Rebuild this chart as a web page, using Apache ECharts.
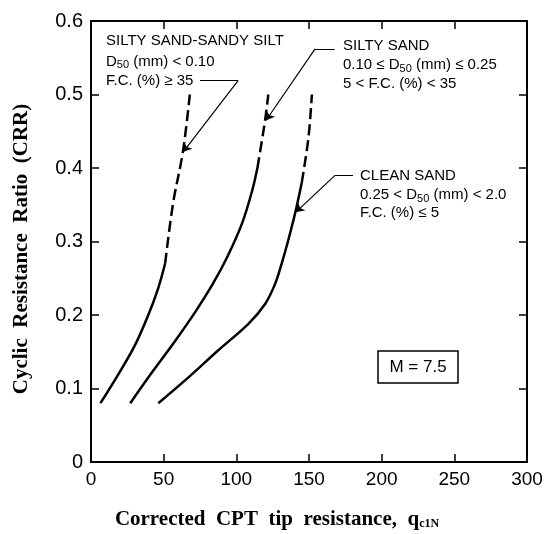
<!DOCTYPE html>
<html>
<head>
<meta charset="utf-8">
<script src="https://cdn.jsdelivr.net/npm/echarts@6/dist/echarts.min.js"></script>
<style>
  html, body { margin: 0; padding: 0; background: #fff; }
  #chart { width: 546px; height: 534px; }
</style>
</head>
<body>
<div id="chart"></div>
<script>
// CRR curves (M = 7.5): [q_c1N, CRR]
var siltySiltSolid = [[6.5, 0.08], [19, 0.12], [30, 0.158], [39, 0.198], [46, 0.235], [51, 0.27]];
var siltySiltDashed = [[51, 0.27], [56.4, 0.351], [63.3, 0.423], [68, 0.5]];

var siltySandSolid = [[27, 0.08], [42, 0.122], [58, 0.165], [72, 0.205], [84, 0.243], [94, 0.28], [104, 0.325], [111, 0.37], [114.5, 0.4]];
var siltySandDashed = [[114.5, 0.4], [117, 0.43], [120, 0.468], [122, 0.5]];

var cleanSandSolid = [[46.3, 0.08], [64.7, 0.111], [87.6, 0.152], [108.3, 0.188], [119.8, 0.215], [126.6, 0.242], [131.2, 0.27], [135.5, 0.3], [140.4, 0.338], [145, 0.38]];
var cleanSandDashed = [[145, 0.38], [149.6, 0.441], [152, 0.5]];

// leader lines from the notes to the curves: text end, corner, arrow tip
var leaderSiltySilt = [[75, 0.519], [101.2, 0.519], [63.5, 0.422]];
var leaderSiltySand = [[167.6, 0.562], [154.2, 0.562], [120.5, 0.465]];
var leaderCleanSand = [[180.3, 0.39], [167.9, 0.39], [141, 0.34]];

var xTicks = [0, 50, 100, 150, 200, 250, 300];
var yTicks = [0, 0.1, 0.2, 0.3, 0.4, 0.5, 0.6];

(function() {
  var myChart = echarts.init(document.getElementById('chart'), null, { renderer: 'canvas' });

  var black = '#000';
  var tickFont = 'Arial, "Liberation Sans", sans-serif';
  var serif = '"Times New Roman", "Liberation Serif", serif';
  var leaders = [leaderSiltySilt, leaderSiltySand, leaderCleanSand];

  function curve(data, dashed) {
    return {
      type: 'line',
      data: data,
      smooth: 0.35,
      showSymbol: false,
      symbol: 'none',
      silent: true,
      lineStyle: { color: black, width: 2.5, type: dashed ? [11, 5] : 'solid' }
    };
  }

  function note(x, y, text, rich) {
    return {
      type: 'text',
      x: x,
      y: y,
      style: {
        text: text,
        fill: black,
        font: '15px Arial, "Liberation Sans", sans-serif',
        verticalAlign: 'middle',
        rich: rich
      }
    };
  }

  var subRich = {
    a: { fontSize: 15, fontFamily: tickFont, color: black },
    s: { fontSize: 11, fontFamily: tickFont, color: black, padding: [7, 0, 0, 0] }
  };

  function frameAxis(extra) {
    return Object.assign({
      type: 'value',
      axisLine: { show: true, onZero: false, lineStyle: { color: black, width: 2 } },
      axisTick: { show: true, inside: true, length: 8, lineStyle: { color: black, width: 1.5 } },
      splitLine: { show: false }
    }, extra);
  }

  var option = {
    animation: false,
    backgroundColor: '#fff',
    grid: { left: 91, right: 19, top: 21, bottom: 72, outerBoundsMode: 'none', containLabel: false },
    xAxis: [
      frameAxis({
        min: xTicks[0], max: xTicks[xTicks.length - 1], interval: 50, position: 'bottom',
        axisLabel: { show: true, color: black, fontSize: 19, fontFamily: tickFont, margin: 8 }
      }),
      frameAxis({
        min: xTicks[0], max: xTicks[xTicks.length - 1], interval: 50, position: 'top',
        axisLabel: { show: false }
      })
    ],
    yAxis: [
      frameAxis({
        min: yTicks[0], max: yTicks[yTicks.length - 1], interval: 0.1, position: 'left',
        axisLabel: {
          show: true, color: black, fontSize: 20, fontFamily: tickFont, margin: 8,
          formatter: function(v) { return v === 0 ? '0' : v.toFixed(1); }
        }
      }),
      frameAxis({
        min: yTicks[0], max: yTicks[yTicks.length - 1], interval: 0.1, position: 'right',
        axisLabel: { show: false }
      })
    ],
    series: [
      curve(siltySiltSolid, false),
      curve(siltySiltDashed, true),
      curve(siltySandSolid, false),
      curve(siltySandDashed, true),
      curve(cleanSandSolid, false),
      curve(cleanSandDashed, true),
      // horizontal part of each leader
      {
        type: 'lines', coordinateSystem: 'cartesian2d', silent: true,
        symbol: ['none', 'none'],
        lineStyle: { color: black, width: 1.2, opacity: 1 },
        data: leaders.map(function(l) { return { coords: [l[0], l[1]] }; })
      },
      // slanted part with arrow head on the curve
      {
        type: 'lines', coordinateSystem: 'cartesian2d', silent: true,
        symbol: ['none', 'arrow'], symbolSize: 8,
        lineStyle: { color: black, width: 1.2, opacity: 1 },
        data: leaders.map(function(l) { return { coords: [l[1], l[2]] }; })
      }
    ],
    graphic: [
      // silty sand - sandy silt note
      note(106, 41, 'SILTY SAND-SANDY SILT'),
      note(106, 61.5, '{a|D}{s|50}{a| (mm) < 0.10}', subRich),
      note(106, 81, 'F.C. (%) ≥ 35'),
      // silty sand note
      note(343, 46, 'SILTY SAND'),
      note(343, 65, '{a|0.10 ≤ D}{s|50}{a| (mm) ≤ 0.25}', subRich),
      note(343, 84, '5 < F.C. (%) < 35'),
      // clean sand note
      note(360, 176, 'CLEAN SAND'),
      note(360, 195, '{a|0.25 < D}{s|50}{a| (mm) < 2.0}', subRich),
      note(360, 213, 'F.C. (%) ≤ 5'),
      // magnitude box
      {
        type: 'rect',
        shape: { x: 378, y: 351, width: 80, height: 32 },
        style: { fill: '#fff', stroke: black, lineWidth: 1.5 }
      },
      {
        type: 'text', x: 418, y: 367,
        style: { text: 'M = 7.5', fill: black, font: '17px Arial, "Liberation Sans", sans-serif', align: 'center', verticalAlign: 'middle' }
      },
      // axis titles
      {
        type: 'text', x: 22, y: 249, rotation: Math.PI / 2,
        style: {
          text: 'Cyclic  Resistance  Ratio  (CRR)',
          fill: black, font: 'bold 21px "Times New Roman", "Liberation Serif", serif',
          align: 'center', verticalAlign: 'middle'
        }
      },
      {
        type: 'text', x: 277, y: 520,
        style: {
          text: '{m|Corrected  CPT  tip  resistance,  q}{s|c1N}',
          align: 'center', verticalAlign: 'middle',
          rich: {
            m: { fontSize: 21, fontWeight: 'bold', fontFamily: serif, color: black },
            s: { fontSize: 12, fontWeight: 'bold', fontFamily: serif, color: black, padding: [8, 0, 0, 0] }
          }
        }
      }
    ]
  };

  myChart.setOption(option);
})();
</script>
</body>
</html>
